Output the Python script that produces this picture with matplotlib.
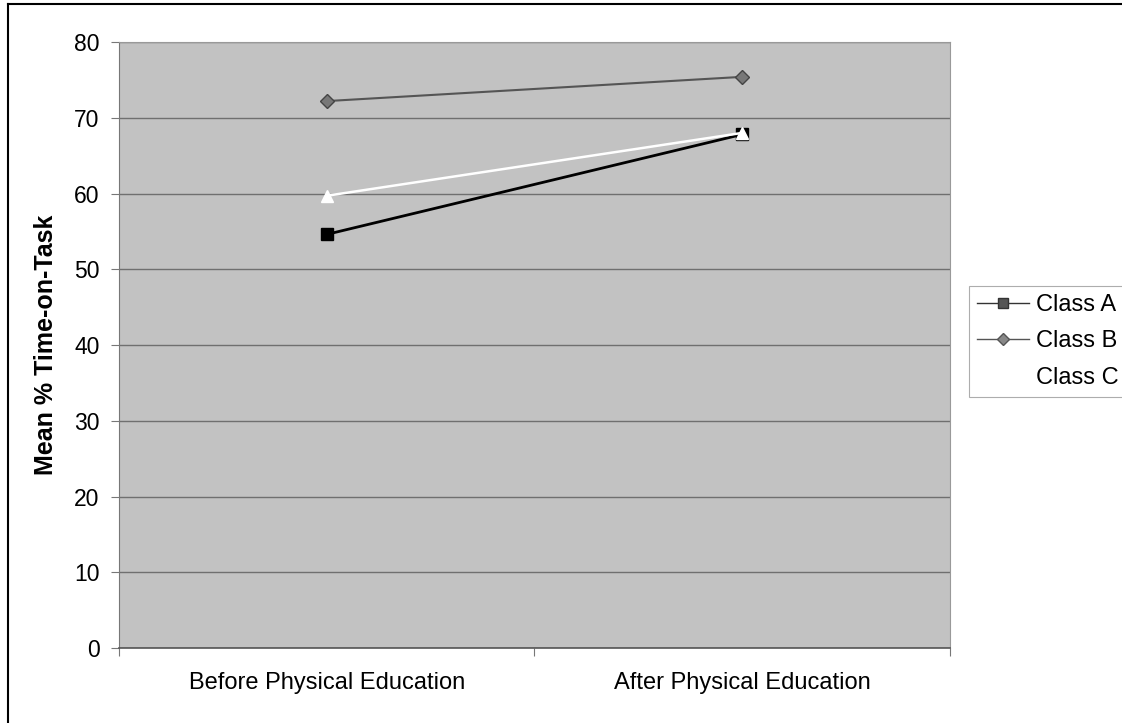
import matplotlib
matplotlib.use("Agg")
import matplotlib.pyplot as plt
from matplotlib.lines import Line2D

plt.rcParams['font.family'] = ['Liberation Sans', 'DejaVu Sans']

categories = ["Before Physical Education", "After Physical Education"]
class_a = [54.6, 67.8]
class_b = [72.2, 75.4]
class_c = [59.7, 68.0]
yticks = [0, 10, 20, 30, 40, 50, 60, 70, 80]

fig = plt.figure(figsize=(11.22, 7.23), dpi=100)
ax = fig.add_axes([0.106, 0.1037, 0.7406, 0.8382])
ax.set_facecolor("#c2c2c2")

x = [0.5, 1.5]
ax.plot(x, class_a, color="black", lw=2, marker="s", ms=8, mfc="black", mec="black", label="Class A", zorder=4)
ax.plot(x, class_b, color="#555555", lw=1.5, marker="D", ms=7, mfc="#777777", mec="#444444", label="Class B", zorder=4)
ax.plot(x, class_c, color="white", lw=1.8, marker="^", ms=9, mfc="white", mec="white", label="Class C", zorder=5)

ax.set_xlim(0, 2)
ax.set_ylim(0, 80)
ax.set_yticks(yticks)
ax.set_xticks([0, 1, 2])
ax.set_xticklabels([])
ax.set_xticks(x, minor=True)
ax.set_xticklabels(categories, minor=True)
ax.tick_params(axis="x", which="minor", length=0, pad=17, labelsize=17)
ax.tick_params(axis="x", which="major", length=6, direction="out", color="#777777")
ax.tick_params(axis="y", length=6, direction="out", color="#777777", labelsize=16.5, pad=8)
ax.yaxis.grid(True, color="#6f6f6f", lw=1)
ax.set_axisbelow(True)
for side in ["top", "right"]:
    ax.spines[side].set_color("#999999")
    ax.spines[side].set_linewidth(0.8)
ax.spines["left"].set_color("#777777")
ax.spines["bottom"].set_color("#555555")
ax.spines["bottom"].set_linewidth(1.2)

ax.set_ylabel("Mean % Time-on-Task", fontsize=18, fontweight="bold")
ax.yaxis.set_label_coords(-0.073, 0.5)

handles = [
    Line2D([], [], color="#333333", lw=1, marker="s", ms=7, mfc="#555555", mec="#333333"),
    Line2D([], [], color="#555555", lw=1, marker="D", ms=6, mfc="#888888", mec="#555555"),
    Line2D([], [], color="white", lw=1, marker="^", ms=7, mfc="white", mec="white"),
]
leg = fig.legend(handles, ["Class A", "Class B", "Class C"], loc="upper left",
                 bbox_to_anchor=(969 / 1122, 1 - 286 / 723), fontsize=17,
                 frameon=True, fancybox=False, edgecolor="#999999",
                 handlelength=2.2, handletextpad=0.3, borderpad=0.35,
                 labelspacing=0.6, borderaxespad=0)
leg.get_frame().set_linewidth(0.8)

# outer chart border (top and left visible in the scan)
fig.add_artist(Line2D([8 / 1122, 1], [1 - 4 / 723, 1 - 4 / 723], transform=fig.transFigure, color="black", lw=1.5))
fig.add_artist(Line2D([8 / 1122, 8 / 1122], [0, 1 - 4 / 723], transform=fig.transFigure, color="black", lw=1.5))

fig.savefig("out.png", dpi=100)
